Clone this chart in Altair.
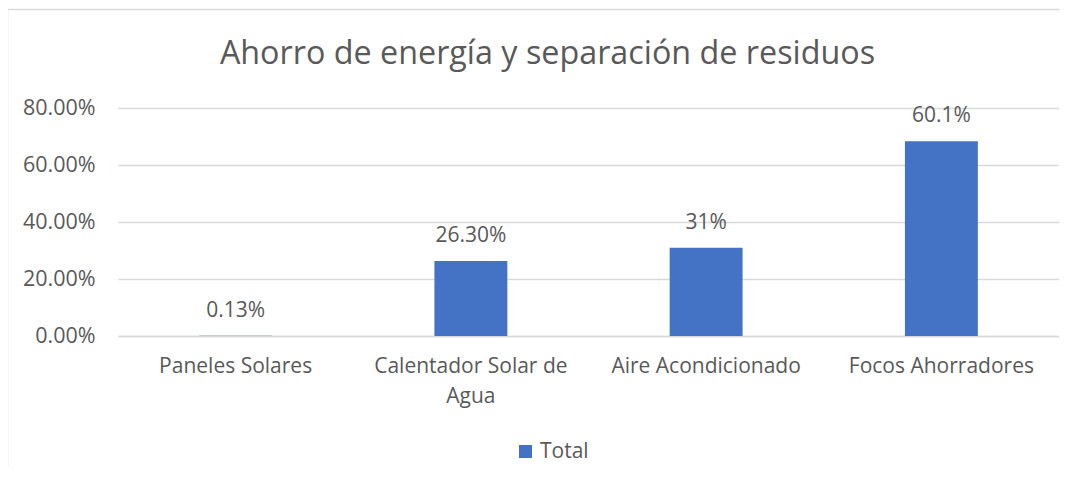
import altair as alt
import pandas as pd

title_text = "Ahorro de energía y separación de residuos"
categories = ["Paneles Solares", "Calentador Solar de Agua", "Aire Acondicionado", "Focos Ahorradores"]
values = [0.0013, 0.263, 0.31, 0.683]
labels = ["0.13%", "26.30%", "31%", "60.1%"]
series = ["Total", "Total", "Total", "Total"]
y_ticks = [0, 0.2, 0.4, 0.6, 0.8]

df = pd.DataFrame({"cat": categories, "val": values, "lab": labels, "series": series})

FONT = "Open Sans"
GRAY = "#595959"
BLUE = "#4472C4"
FS = 21

x = alt.X("cat:N", sort=categories, title=None,
          scale=alt.Scale(paddingInner=0.69, paddingOuter=0.345),
          axis=alt.Axis(labelAngle=0, ticks=False, domain=True, domainColor="#d9d9d9",
                        domainWidth=1.5, labelFontSize=FS, labelColor=GRAY, labelFont=FONT,
                        labelPadding=19, labelLineHeight=30, labelBaseline="top",
                        labelLimit=0, labelOverlap=False,
                        labelExpr="datum.value == 'Calentador Solar de Agua' ? ['Calentador Solar de', 'Agua'] : datum.value"))
y = alt.Y("val:Q", title=None,
          scale=alt.Scale(domain=[0, 0.8], nice=False),
          axis=alt.Axis(values=y_ticks, format=".2%", ticks=False, domain=False,
                        gridColor="#d9d9d9", gridWidth=1.5, labelFontSize=21.5,
                        labelColor=GRAY, labelFont=FONT, labelPadding=23))

bars = alt.Chart(df).mark_bar().encode(
    x=x, y=y,
    color=alt.Color("series:N", scale=alt.Scale(range=[BLUE]), title=None,
                    legend=alt.Legend(orient="none", legendX=397, legendY=333,
                                      symbolType="square", symbolSize=169, symbolStrokeWidth=0,
                                      labelFontSize=FS, labelColor=GRAY, labelFont=FONT,
                                      labelOffset=4, padding=0)),
)

text = alt.Chart(df).mark_text(dy=-25, fontSize=FS, color=GRAY, font=FONT, baseline="middle").encode(
    x=alt.X("cat:N", sort=categories), y="val:Q", text="lab:N"
)

frame = pd.DataFrame({"k": [0]})
left_border = alt.Chart(frame).mark_rule(color="#d9d9d9", strokeWidth=1.5).encode(
    x=alt.value(-110.5), y=alt.value(-98.5), y2=alt.value(380))
top_border = alt.Chart(frame).mark_rule(color="#d9d9d9", strokeWidth=1.5).encode(
    x=alt.value(-110.5), x2=alt.value(960), y=alt.value(-98.5))
title = alt.Chart(frame).mark_text(text=title_text, fontSize=32.3, font=FONT, color=GRAY,
                                   align="center", baseline="alphabetic").encode(
    x=alt.value(429.5), y=alt.value(-44))

chart = alt.layer(left_border, top_border, title, bars, text).properties(
    width=941, height=228,
    autosize=alt.AutoSizeParams(type="none"),
    padding={"left": 110, "top": 100, "right": 0, "bottom": 130},
).configure_view(stroke=None)

chart.save("out.html", embed_options={"renderer": "svg", "actions": False})
